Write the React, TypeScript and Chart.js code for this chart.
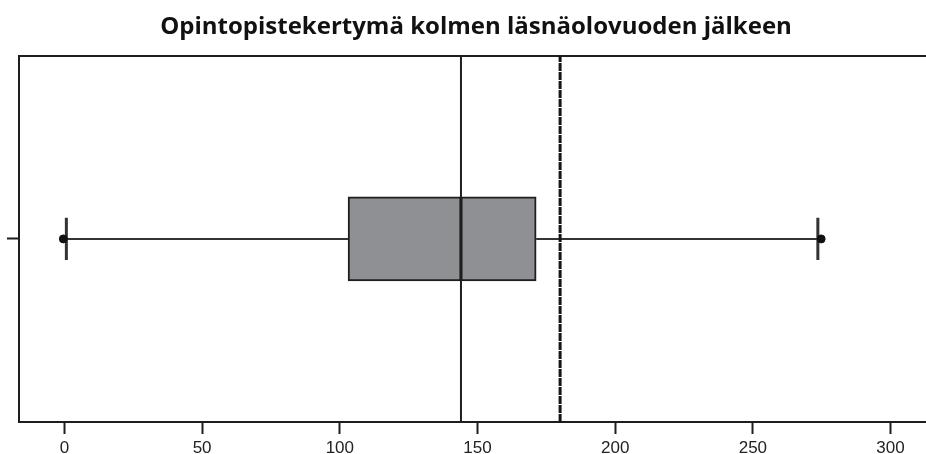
import React, { useEffect, useRef } from "react";
import { Chart, registerables } from "chart.js";

Chart.register(...registerables);

const titleText = "Opintopistekertymä kolmen läsnäolovuoden jälkeen";
const xTicks = [0, 50, 100, 150, 200, 250, 300];
const boxQ1 = 103;
const boxQ3 = 171.3;
const median = 144;
const whiskerMin = 0.7;
const whiskerMax = 273.6;
const pointMin = -0.4;
const pointMax = 274.8;
const referenceLine = 180;
const xMin = -16.5;
const xMax = 320.5;

export default function App() {
  const ref = useRef<HTMLCanvasElement | null>(null);
  useEffect(() => {
    if (!ref.current) return;
    const dark = "#1e1e1e";
    const chart = new Chart(ref.current, {
      type: "scatter",
      data: {
        datasets: [
          {
            type: "bar",
            indexAxis: "y",
            data: [{ x: [boxQ1, boxQ3], y: 1 }] as any,
            backgroundColor: "#8f9094",
            borderColor: dark,
            borderWidth: 2,
            borderSkipped: false,
            barThickness: 84,
            order: 10,
          } as any,
          {
            type: "line",
            data: [{ x: whiskerMin, y: 1 }, { x: boxQ1, y: 1 }],
            borderColor: "#333",
            borderWidth: 2,
            pointRadius: 0,
            order: 5,
          } as any,
          {
            type: "line",
            data: [{ x: boxQ3, y: 1 }, { x: whiskerMax, y: 1 }],
            borderColor: "#333",
            borderWidth: 2,
            pointRadius: 0,
            order: 5,
          } as any,
          {
            type: "line",
            data: [{ x: whiskerMin, y: 0.885 }, { x: whiskerMin, y: 1.115 }],
            borderColor: "#333",
            borderWidth: 3,
            pointRadius: 0,
            order: 5,
          } as any,
          {
            type: "line",
            data: [{ x: whiskerMax, y: 0.885 }, { x: whiskerMax, y: 1.115 }],
            borderColor: "#333",
            borderWidth: 3,
            pointRadius: 0,
            order: 5,
          } as any,
          {
            type: "line",
            data: [{ x: median, y: 0 }, { x: median, y: 2 }],
            borderColor: dark,
            borderWidth: 2,
            pointRadius: 0,
            order: 3,
          } as any,
          {
            type: "line",
            data: [{ x: median, y: 0.773 }, { x: median, y: 1.227 }],
            borderColor: "#111",
            borderWidth: 3,
            pointRadius: 0,
            order: 3,
          } as any,
          {
            type: "line",
            data: [{ x: referenceLine, y: 0 }, { x: referenceLine, y: 2 }],
            borderColor: "#151515",
            borderWidth: 3,
            borderDash: [8, 1],
            pointRadius: 0,
            order: 2,
          } as any,
          {
            type: "scatter",
            data: [{ x: pointMin, y: 1 }, { x: pointMax, y: 1 }],
            backgroundColor: "#111",
            borderColor: "#111",
            pointRadius: 4,
            order: 1,
          } as any,
        ],
      },
      options: {
        animation: false,
        responsive: false,
        maintainAspectRatio: false,
        layout: { padding: { left: 0, right: 0, top: 0, bottom: 0 } },
        plugins: {
          legend: { display: false },
          tooltip: { enabled: false },
          title: {
            display: true,
            text: titleText,
            color: "#111",
            font: { family: "Open Sans", size: 24, weight: "bold" },
            padding: { top: 13, bottom: 14 },
          },
        },
        scales: {
          x: {
            type: "linear",
            position: "bottom",
            min: xMin,
            max: xMax,
            offset: false,
            afterBuildTicks: (s: any) => {
              s.ticks = xTicks.map((v) => ({ value: v }));
            },
            afterFit: (s: any) => {
              s.height = 32;
            },
            grid: {
              display: true,
              offset: false,
              drawOnChartArea: false,
              drawTicks: true,
              tickLength: 12,
              tickWidth: 2,
              tickColor: dark,
            },
            border: { display: true, color: dark, width: 2 },
            ticks: {
              color: "#222",
              font: { family: "Liberation Sans", size: 17 },
              padding: 4,
              maxRotation: 0,
            },
          },
          x2: {
            type: "linear",
            position: "top",
            display: true,
            min: xMin,
            max: xMax,
            offset: false,
            afterFit: (s: any) => {
              s.height = 0;
            },
            grid: { display: false, drawTicks: false, offset: false },
            border: { display: true, color: dark, width: 2 },
            ticks: { display: false },
          },
          y: {
            type: "linear",
            min: 0,
            max: 2,
            offset: false,
            afterBuildTicks: (s: any) => {
              s.ticks = [{ value: 1 }];
            },
            afterFit: (s: any) => {
              s.width = 19;
            },
            grid: {
              display: true,
              offset: false,
              drawOnChartArea: false,
              drawTicks: true,
              tickLength: 12,
              tickWidth: 2,
              tickColor: dark,
            },
            border: { display: true, color: dark, width: 2 },
            ticks: { callback: () => "", padding: 0 },
          },
        },
      },
    });
    return () => chart.destroy();
  }, []);

  return (
    <div
      style={{
        position: "fixed",
        left: 0,
        top: 0,
        width: 926,
        height: 454,
        overflow: "hidden",
        background: "#fff",
      }}
    >
      <canvas ref={ref} width={952} height={454} style={{ width: 952, height: 454, display: "block" }} />
    </div>
  );
}
